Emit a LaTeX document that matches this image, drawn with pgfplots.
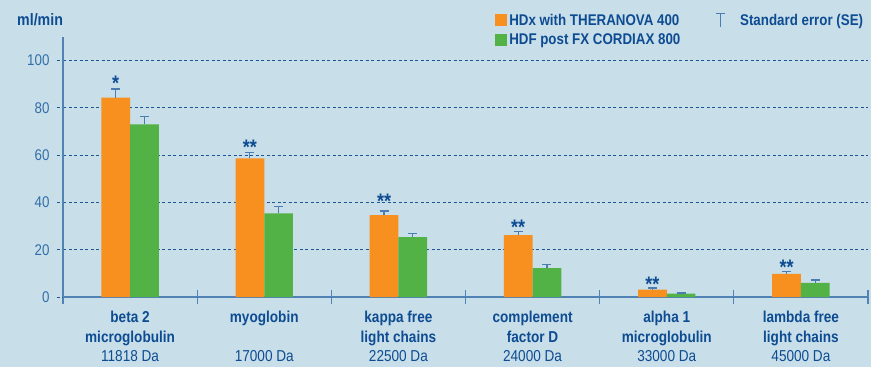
\documentclass[border=0pt]{standalone}
\usepackage{fontspec}
\setmainfont{Liberation Sans}[FakeStretch=0.86]
\usepackage{pgfplots}
\pgfplotsset{compat=1.18}
\usetikzlibrary{backgrounds}
\definecolor{bg}{RGB}{200,222,233}
\definecolor{orangeC}{RGB}{247,144,30}
\definecolor{greenC}{RGB}{82,178,70}
\definecolor{darkblue}{RGB}{13,76,146}
\definecolor{axisblue}{RGB}{80,130,180}
\definecolor{tickblue}{RGB}{50,110,168}
\definecolor{gridblue}{RGB}{30,87,153}
\definecolor{seblue}{RGB}{75,125,178}
\newcommand\lf{\fontsize{15.5}{19.5}\selectfont}
\begin{document}
\begin{tikzpicture}
\useasboundingbox (-63pt,-70pt) rectangle (808pt,297pt);
\fill[bg] (-63pt,-70pt) rectangle (808pt,297pt);
\begin{axis}[
  at={(0,0)}, anchor=south west,
  scale only axis, width=805pt, height=260pt,
  xmin=-0.5, xmax=5.5, ymin=0, ymax=110,
  ybar, bar width=0.214,
  axis x line*=bottom, axis y line*=left,
  axis line style={color=axisblue, line width=1.3pt},
  ytick={0,20,40,60,80,100},
  ymajorgrids,
  grid style={gridblue, line width=0.9pt, dash pattern=on 3pt off 2.5pt},
  tick align=center,
  major tick length=6pt,
  minor tick length=14pt,
  ytick style={gridblue, line width=0.9pt, dash pattern=on 3pt off 2.5pt, xshift=-3pt},
  xtick={0,1,2,3,4,5},
  minor xtick={-0.5,0.5,1.5,2.5,3.5,4.5,5.5},
  major x tick style={draw=none},
  minor x tick style={axisblue, line width=1.2pt},
  /pgf/number format/assume math mode=true,
  yticklabel style={font=\lf, text=tickblue, xshift=-7pt},
  xticklabel style={font=\fontsize{15.8}{19.5}\selectfont, text=darkblue, align=center, anchor=north, yshift=-8pt},
  xticklabels={
    {\textbf{beta 2}\\\textbf{microglobulin}\\11818 Da},
    {\textbf{myoglobin}\\\strut\\17000 Da},
    {\textbf{kappa free}\\\textbf{light chains}\\22500 Da},
    {\textbf{complement}\\\textbf{factor D}\\24000 Da},
    {\textbf{alpha 1}\\\textbf{microglobulin}\\33000 Da},
    {\textbf{lambda free}\\\textbf{light chains}\\45000 Da}},
  legend style={at={(axis description cs:0.533,1.105)}, anchor=north west,
    draw=none, fill=none, font=\lf\bfseries, text=darkblue,
    row sep=3pt, /tikz/column 2/.style={column sep=33pt}},
  legend columns=2,
  legend cell align=left,
  clip=false,
]
\addplot[bar shift=-0.107, fill=orangeC, draw=none,
  legend image code/.code={\fill[orangeC] (0pt,-6pt) rectangle (12pt,6pt);},
  error bars/.cd, y dir=plus, y explicit,
  error bar style={seblue, line width=1.2pt},
  error mark options={seblue, rotate=90, mark size=4.5pt, line width=1.2pt}]
  coordinates {(0,84.4) +- (0,3.6) (1,58.6) +- (0,2.7) (2,34.6) +- (0,1.8)
               (3,26.2) +- (0,1.4) (4,3.1) +- (0,0.7) (5,9.8) +- (0,1.0)};
\addlegendentry{HDx with THERANOVA 400}
\addlegendimage{legend image code/.code={
  \draw[seblue, line width=1.2pt] (4.5pt,-6.5pt)--(4.5pt,6.5pt) (0pt,6.5pt)--(9pt,6.5pt);
  \path (22pt,0pt);}}
\addlegendentry{Standard error (SE)}
\addplot[bar shift=0.107, fill=greenC, draw=none,
  legend image code/.code={\fill[greenC] (0pt,-6pt) rectangle (12pt,6pt);},
  error bars/.cd, y dir=plus, y explicit,
  error bar style={seblue, line width=1.2pt},
  error mark options={seblue, rotate=90, mark size=4.5pt, line width=1.2pt}]
  coordinates {(0,73.0) +- (0,3.5) (1,35.4) +- (0,2.9) (2,25.3) +- (0,1.6)
               (3,12.2) +- (0,1.5) (4,1.4) +- (0,0.3) (5,6.0) +- (0,1.2)};
\addlegendentry{HDF post FX CORDIAX 800}
\addplot[sharp plot, draw=none, mark=none, forget plot,
  nodes near coords, point meta=explicit symbolic,
  every node near coord/.style={anchor=center, yshift=-5pt, text=darkblue,
    font=\fontsize{21}{21}\selectfont\bfseries, inner sep=0pt}]
  table[meta=m] {
  x y m
  -0.107 92.4 *
  0.893 65.5 **
  1.893 42.7 **
  2.893 31.8 **
  3.893 7.6 **
  4.893 14.9 **
  };
\end{axis}
\node[anchor=west, inner sep=0pt, text=darkblue, font=\fontsize{16.5}{20}\selectfont\bfseries] at (-46pt,277pt) {ml/min};
\end{tikzpicture}
\end{document}
